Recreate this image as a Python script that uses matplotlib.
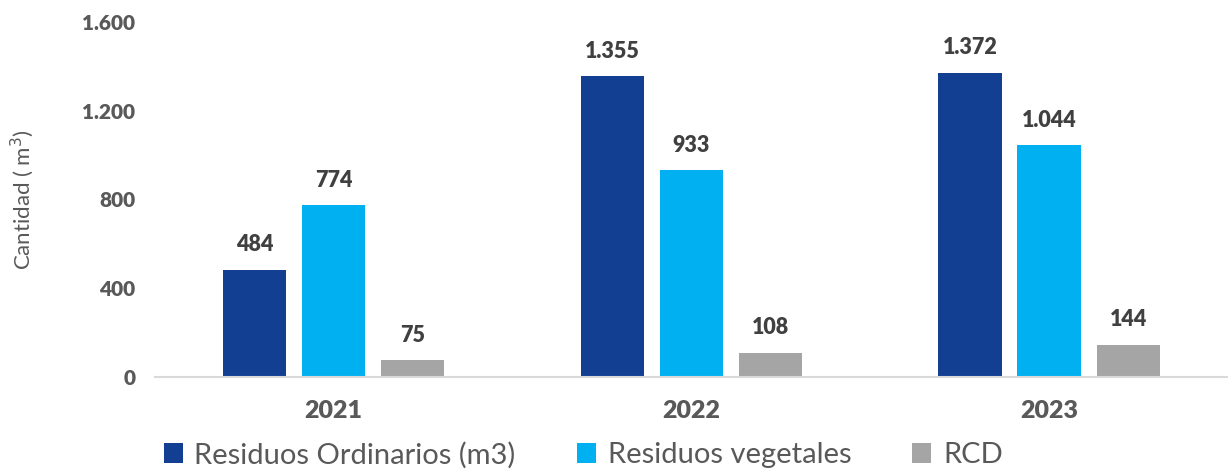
import matplotlib.pyplot as plt
import numpy as np

years = ['2021', '2022', '2023']
series_names = ['Residuos Ordinarios (m3)', 'Residuos vegetales', 'RCD']
ordinarios = [484, 1355, 1372]
vegetales = [774, 933, 1044]
rcd = [75, 108, 144]
colors = ['#123f91', '#00b0f0', '#a5a5a5']

plt.rcParams['font.family'] = ['Lato', 'DejaVu Sans']
txt = '#595959'


def fmt(v):
    return f'{v:,}'.replace(',', '.')


fig = plt.figure(figsize=(12.28, 4.71), dpi=100)
ax = fig.add_axes([0.126, 0.2, 0.874, 0.753])

x = np.arange(len(years))
w = 0.177
step = 0.221
bars = []
for i, (vals, name) in enumerate(zip([ordinarios, vegetales, rcd], series_names)):
    b = ax.bar(x + (i - 1) * step, vals, width=w, color=colors[i], label=name)
    bars.append(b)
    for xi, v in zip(x + (i - 1) * step, vals):
        ax.text(xi, v + 65, fmt(v), ha='center', va='bottom',
                fontsize=15.5, fontweight='heavy', color='#404040')

ax.set_xlim(-0.5, 2.5)
ax.set_ylim(0, 1600)
ax.set_yticks([0, 400, 800, 1200, 1600])
ax.set_yticklabels([fmt(v) for v in [0, 400, 800, 1200, 1600]],
                   fontsize=15, fontweight='heavy', color=txt)
ax.set_xticks(x)
ax.set_xticklabels(years, fontsize=18, fontweight='heavy', color=txt)
ax.tick_params(axis='both', length=0)
ax.tick_params(axis='y', pad=14)
ax.tick_params(axis='x', pad=17)
for s in ['top', 'right', 'left']:
    ax.spines[s].set_visible(False)
ax.spines['bottom'].set_color('#d9d9d9')
ax.spines['bottom'].set_linewidth(1.5)
ax.set_ylabel('Cantidad ( m$^3$)', fontsize=16, color=txt, labelpad=33)

fig.legend(handles=bars, labels=series_names, loc='lower left',
           bbox_to_anchor=(0.112, -0.05), ncol=3, frameon=False,
           fontsize=21, labelcolor=txt, handlelength=0.65, handleheight=0.65,
           handletextpad=0.4, columnspacing=2.1)

plt.savefig('out.png', dpi=100)
